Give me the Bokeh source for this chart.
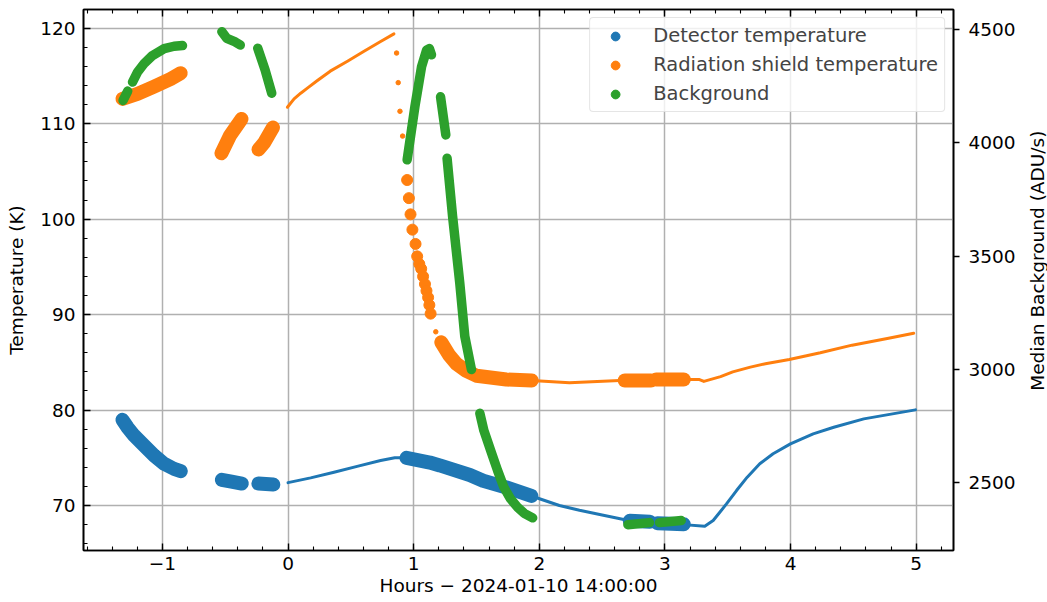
import math
from bokeh.plotting import figure
from bokeh.layouts import row
from bokeh.models import (Range1d, LinearAxis, SingleIntervalTicker, Legend, LegendItem,
                          CustomJSTickFormatter)
from bokeh.core.properties import value
from bokeh.embed import file_html
from bokeh.resources import INLINE

# ---------------- data ----------------
# Detector temperature (K): dense (thick) stretches and sparse (thin) stretches
det_thick_hours = [[-1.318, -1.278, -1.225, -1.146, -1.066, -0.986, -0.907, -0.854],
                   [-0.527, -0.45, -0.368],
                   [-0.236, -0.117],
                   [0.943, 1.129, 1.208, 1.447, 1.553, 1.738, 1.937],
                   [2.72, 2.80, 2.88],
                   [2.94, 3.05, 3.15]]
det_thick_temp = [[78.98, 78.2, 77.33, 76.29, 75.24, 74.37, 73.84, 73.6],
                  [72.7, 72.5, 72.3],
                  [72.3, 72.2],
                  [75.0, 74.5, 74.2, 73.2, 72.6, 71.9, 71.0],
                  [68.4, 68.35, 68.3],
                  [68.15, 68.1, 68.05]]
det_thin_hours = [[0.0, 0.18, 0.366, 0.55, 0.737, 0.85, 0.943],
                  [1.937, 2.16, 2.32, 2.5, 2.72],
                  [3.15, 3.317, 3.384, 3.437, 3.49, 3.57, 3.655, 3.755, 3.861, 3.999, 4.18,
                   4.344, 4.583, 4.994]]
det_thin_temp = [[72.4, 72.9, 73.49, 74.1, 74.71, 75.0, 75.0],
                 [71.0, 70.0, 69.5, 69.0, 68.4],
                 [68.0, 67.83, 68.43, 69.3, 70.17, 71.57, 72.97, 74.37, 75.42, 76.46, 77.51,
                  78.2, 79.08, 80.02]]

# Radiation shield temperature (K)
rad_thick_hours = [[-1.318, -1.198, -1.066, -0.933, -0.854],
                   [-0.53, -0.46, -0.37],
                   [-0.235, -0.19, -0.12],
                   [1.22, 1.28, 1.34, 1.42, 1.5, 1.738, 1.94],
                   [2.68, 2.89],
                   [2.93, 3.15]]
rad_thick_temp = [[112.6, 113.13, 113.89, 114.7, 115.29],
                  [106.9, 108.8, 110.5],
                  [107.3, 108.0, 109.6],
                  [87.1, 85.8, 84.85, 84.1, 83.6, 83.2, 83.1],
                  [83.1, 83.1],
                  [83.2, 83.2]]
rad_thin_hours = [[-0.005, 0.048, 0.101, 0.154, 0.234, 0.336, 0.473, 0.605, 0.737, 0.843],
                  [1.94, 2.24, 2.64, 2.68],
                  [3.15, 3.275, 3.31, 3.443, 3.54, 3.68, 3.80, 3.99, 4.237, 4.49, 4.77, 4.98]]
rad_thin_temp = [[111.72, 112.6, 113.19, 113.72, 114.52, 115.5, 116.54, 117.59, 118.6, 119.41],
                 [83.1, 82.85, 83.1, 83.1],
                 [83.2, 83.2, 83.0, 83.5, 84.0, 84.5, 84.85, 85.3, 86.0, 86.8, 87.5, 88.05]]
rad_small_hours = [0.864, 0.877, 0.891, 0.912, 1.176]
rad_small_temp = [117.4, 114.3, 111.3, 108.7, 88.2]
rad_big_hours = [0.948, 0.962, 0.975, 0.99, 1.015, 1.028, 1.045, 1.06, 1.075, 1.09, 1.102, 1.115, 1.125, 1.135]
rad_big_temp = [104.1, 102.2, 100.5, 98.9, 97.4, 96.1, 95.3, 94.8, 94.0, 93.2, 92.5, 91.8, 91.0, 90.1]

# Median background (ADU/s)
bg_hours = [[-1.313, -1.276],
            [-1.238, -1.198, -1.146, -1.079, -0.986, -0.907, -0.84],
            [-0.527, -0.487, -0.42, -0.38],
            [-0.241, -0.183, -0.13],
            [0.948, 1.01, 1.063, 1.103, 1.125, 1.142],
            [1.214, 1.256],
            [1.266, 1.31, 1.367, 1.407, 1.46],
            [1.527, 1.559, 1.613, 1.668, 1.718, 1.771, 1.827, 1.88, 1.947],
            [2.705, 2.877],
            [2.957, 3.13]]
bg_values = [[4187, 4228],
             [4268, 4312, 4349, 4385, 4415, 4426, 4429],
             [4490, 4461, 4445, 4431],
             [4417, 4322, 4219],
             [3925, 4160, 4336, 4409, 4416, 4388],
             [4203, 4035],
             [3932, 3675, 3382, 3147, 3000],
             [2807, 2731, 2643, 2555, 2481, 2430, 2393, 2366, 2346],
             [2316, 2325],
             [2325, 2334]]

RIGHT_TITLE = "Median Background (ADU/s)"

BLUE, ORANGE, GREEN = "#1f77b4", "#ff7f0e", "#2ca02c"
FONT = "DejaVu Sans"
FS = "18.5px"
X_RANGE = (-1.628, 5.297)
T_RANGE = (65.29, 121.96)
BG_RANGE = (2202, 4588)

p = figure(width=1025, height=602, output_backend="svg", toolbar_location=None,
           x_range=Range1d(*X_RANGE), y_range=Range1d(*T_RANGE),
           min_border_left=83, min_border_right=72, min_border_top=9, min_border_bottom=52,
           x_axis_location=None, y_axis_location=None)
p.extra_y_ranges = {"bg": Range1d(*BG_RANGE)}
p.background_fill_color = "white"
p.border_fill_color = "white"
p.outline_line_color = "black"
p.outline_line_width = 1.6

minus_fmt = CustomJSTickFormatter(code="return tick < 0 ? '\u2212' + Math.abs(tick) : '' + tick;")

def style_axis(ax, labels=True, inward=True):
    ax.axis_line_color = "black"
    ax.axis_line_width = 1.6
    ax.major_tick_line_color = "black"
    ax.major_tick_line_width = 1.4
    ax.minor_tick_line_color = "black"
    ax.minor_tick_line_width = 1.1
    if inward:
        ax.major_tick_in, ax.major_tick_out = 7, 0
        ax.minor_tick_in, ax.minor_tick_out = 4, 0
    else:
        ax.major_tick_in, ax.major_tick_out = 0, 6
        ax.minor_tick_in, ax.minor_tick_out = 0, 0
    ax.major_label_text_font = FONT
    ax.major_label_text_font_size = FS
    ax.major_label_text_color = "black" if labels else None
    ax.axis_label_text_font = FONT
    ax.axis_label_text_font_size = FS
    ax.axis_label_text_font_style = "normal"
    ax.axis_label_text_color = "black"

xtick = SingleIntervalTicker(interval=1, num_minor_ticks=5)
ytick = SingleIntervalTicker(interval=10, num_minor_ticks=5)
bgtick = SingleIntervalTicker(interval=500, num_minor_ticks=0)

xb = LinearAxis(ticker=xtick, formatter=minus_fmt, axis_label="Hours \u2212 2024-01-10 14:00:00")
style_axis(xb)
xb.major_label_standoff = 6
xb.axis_label_standoff = 2
p.add_layout(xb, "below")

xt = LinearAxis(ticker=xtick)
style_axis(xt, labels=False)
xt.major_label_text_font_size = "0px"
p.add_layout(xt, "above")

yl = LinearAxis(ticker=ytick, axis_label="Temperature (K)")
style_axis(yl)
yl.major_label_standoff = 8
yl.axis_label_standoff = 10
p.add_layout(yl, "left")

yr = LinearAxis(ticker=bgtick, y_range_name="bg")
style_axis(yr, inward=False)
yr.major_label_standoff = 9
p.add_layout(yr, "right")

p.xgrid.ticker = xtick
p.ygrid.ticker = ytick
for g in (p.xgrid, p.ygrid):
    g.grid_line_color = "#b0b0b0"
    g.grid_line_width = 1.5

# ---------------- detector temperature ----------------
leg_det = p.scatter(det_thick_hours[0], det_thick_temp[0], size=7, color=BLUE)
p.multi_line(det_thin_hours, det_thin_temp, line_width=3, color=BLUE, line_cap="round", line_join="round")
p.multi_line(det_thick_hours, det_thick_temp, line_width=14, color=BLUE, line_cap="round", line_join="round")

# ---------------- radiation shield temperature ----------------
leg_rad = p.scatter(rad_thick_hours[0], rad_thick_temp[0], size=7, color=ORANGE)
p.multi_line(rad_thin_hours, rad_thin_temp, line_width=3, color=ORANGE, line_cap="round", line_join="round")
p.scatter(rad_small_hours, rad_small_temp, size=4.5, color=ORANGE)
p.scatter(rad_big_hours, rad_big_temp, size=11, color=ORANGE)
p.multi_line(rad_thick_hours, rad_thick_temp, line_width=14, color=ORANGE, line_cap="round", line_join="round")

# ---------------- background ----------------
leg_bg = p.scatter(bg_hours[1], bg_values[1], size=7, color=GREEN, y_range_name="bg")
p.multi_line(bg_hours, bg_values, line_width=9.5, color=GREEN, line_cap="round", line_join="round",
             y_range_name="bg")

legend = Legend(items=[LegendItem(label="Detector temperature", renderers=[leg_det]),
                       LegendItem(label="Radiation shield temperature", renderers=[leg_rad]),
                       LegendItem(label="Background", renderers=[leg_bg])],
                location="top_right")
legend.margin = 8
legend.padding = 6
legend.spacing = 6
legend.glyph_width = 38
legend.glyph_height = 22
legend.label_height = 22
legend.label_standoff = 19
legend.label_text_font = FONT
legend.label_text_font_size = "19.5px"
legend.border_line_color = "#cccccc"
legend.border_line_width = 1.2
legend.border_radius = 4
legend.background_fill_alpha = 0.8
p.add_layout(legend)

# ---------------- right-axis title strip (reads bottom-to-top) ----------------
# vertical placement shares the main plot's pixel frame: canvas rows 0..602
t = figure(width=22, height=602, output_backend="svg", toolbar_location=None,
           x_range=Range1d(0, 22), y_range=Range1d(602, 0),
           min_border=0, x_axis_location=None, y_axis_location=None)
t.outline_line_color = None
t.border_fill_color = "white"
t.background_fill_color = "white"
t.xgrid.visible = False
t.ygrid.visible = False
t.text(x=[12], y=[279.5], text=[RIGHT_TITLE], angle=math.pi / 2,
       text_align="center", text_baseline="middle",
       text_font=value(FONT), text_font_size=FS, text_color="black")

layout = row(p, t, spacing=0)
open("out.html", "w").write(file_html(layout, INLINE))
